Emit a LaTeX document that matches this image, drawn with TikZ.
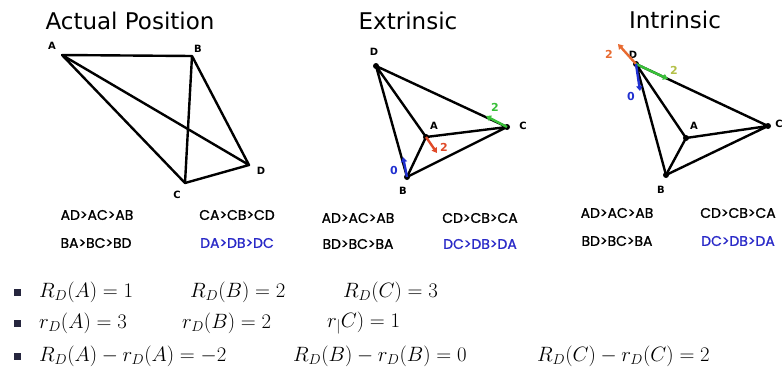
\documentclass[tikz,border=0pt]{standalone}
\usepackage{fontspec}
\usepackage{amsmath}
\usetikzlibrary{arrows.meta}
\newfontfamily\titlefont{DejaVu Sans}
\newfontfamily\orderfont[FakeBold=1]{Poppins}
\definecolor{OrderBlue}{HTML}{2A2AC8}
\definecolor{PointBlue}{HTML}{2030D0}
\definecolor{PointRed}{HTML}{E04A28}
\definecolor{PointGreen}{HTML}{38C038}
\definecolor{PointOrange}{HTML}{E86A30}
\definecolor{LabelLime}{HTML}{B4C048}
\definecolor{BulletNavy}{HTML}{26263E}

\begin{document}
\begin{tikzpicture}[x=1pt,y=-1pt,every node/.style={inner sep=0pt},
  edge/.style={line width=2.4pt,line join=round},
  vlabel/.style={font=\titlefont\bfseries\fontsize{10}{10}\selectfont},
  dot/.style={circle,fill=black,minimum size=6pt},
  heading/.style={font=\titlefont\fontsize{23}{23}\selectfont},
  order/.style={font=\orderfont\fontsize{14}{14}\selectfont},
  pointer/.style={line width=2.4pt,-{Triangle[length=5pt,width=6pt]}},
  plabel/.style={font=\titlefont\bfseries\fontsize{11}{11}\selectfont},
  bullet/.style={rectangle,fill=BulletNavy,minimum size=7pt},
  formula/.style={anchor=west,font=\fontsize{21}{24}\selectfont}]
\fill[white] (0,0) rectangle (783,367);
\useasboundingbox (0,0) rectangle (783,367);

% headings
\node[heading] (t1) at (130,21) {Actual Position};
\node[heading] (t2) at (408,21) {Extrinsic};
\node[heading] (t3) at (675,20) {Intrinsic};

% actual position
\coordinate (a1) at (62,55);
\coordinate (b1) at (192,56);
\coordinate (c1) at (185,183);
\coordinate (d1) at (249,165);
\draw[edge] (a1) -- (b1) -- (d1) -- (c1) -- (a1) -- (d1);
\draw[edge] (b1) -- (c1);
\node[vlabel] (la1) at (52,46) {A};
\node[vlabel] (lb1) at (198,49) {B};
\node[vlabel] (lc1) at (177,195) {C};
\node[vlabel] (ld1) at (261,171) {D};

% extrinsic
\coordinate (d2) at (376,66);
\coordinate (c2) at (507,127);
\coordinate (a2) at (426,137);
\coordinate (b2) at (407,177);
\draw[edge] (d2) -- (b2) -- (c2) -- (d2) -- (a2) -- (c2);
\draw[edge] (a2) -- (b2);
\foreach \v in {a2,b2,c2,d2} \node[dot] at (\v) {};
\node[vlabel] (ld2) at (374,52) {D};
\node[vlabel] (lc2) at (523,126) {C};
\node[vlabel] (la2) at (434,126) {A};
\node[vlabel] (lb2) at (403,191) {B};
\coordinate (pb2) at (403,157);
\coordinate (pa2) at (437,153);
\coordinate (pc2) at (486,116);
\draw[pointer,PointBlue] (b2) -- (pb2);
\draw[pointer,PointRed] (a2) -- (pa2);
\draw[pointer,PointGreen] (c2) -- (pc2);
\node[plabel,PointBlue] (nb2) at (394,170) {0};
\node[plabel,PointRed] (na2) at (444,147) {2};
\node[plabel,PointGreen] (nc2) at (495,107) {2};

% intrinsic
\coordinate (d3) at (636,64);
\coordinate (c3) at (768,126);
\coordinate (a3) at (686,138);
\coordinate (b3) at (666,175);
\draw[edge] (d3) -- (b3) -- (c3) -- (d3) -- (a3) -- (c3);
\draw[edge] (a3) -- (b3);
\foreach \v in {a3,b3,c3,d3} \node[dot] at (\v) {};
\node[vlabel] (ld3) at (633,55) {D};
\node[vlabel] (lc3) at (779,124) {C};
\node[vlabel] (la3) at (694,126) {A};
\node[vlabel] (lb3) at (661,190) {B};
\coordinate (po3) at (618,44);
\coordinate (pg3) at (668,79);
\coordinate (pb3) at (640,91);
\draw[pointer,PointOrange] (d3) -- (po3);
\draw[pointer,PointGreen] (d3) -- (pg3);
\draw[pointer,PointBlue] (d3) -- (pb3);
\node[plabel,PointOrange] (no3) at (609,54) {2};
\node[plabel,LabelLime] (ng3) at (674,70) {2};
\node[plabel,PointBlue] (nb3) at (631,96) {0};

% neighbour orders
\node[order] (o11) at (97,215) {AD>AC>AB};
\node[order] (o12) at (237,215) {CA>CB>CD};
\node[order] (o13) at (96,243) {BA>BC>BD};
\node[order,OrderBlue] (o14) at (237,243) {DA>DB>DC};
\node[order] (o21) at (358,218) {AD>AC>AB};
\node[order] (o22) at (480,218) {CD>CB>CA};
\node[order] (o23) at (358,244) {BD>BC>BA};
\node[order,OrderBlue] (o24) at (480,244) {DC>DB>DA};
\node[order] (o31) at (617,213) {AD>AC>AB};
\node[order] (o32) at (738,213) {CD>CB>CA};
\node[order] (o33) at (617,241) {BD>BC>BA};
\node[order,OrderBlue] (o34) at (738,241) {DC>DB>DA};

% ranks
\node[bullet] (s1) at (17,292) {};
\node[bullet] (s2) at (17,323) {};
\node[bullet] (s3) at (17,356) {};
\node[formula] (f11) at (39,292) {$R_D(A)=1$};
\node[formula] (f12) at (190,292) {$R_D(B)=2$};
\node[formula] (f13) at (343,292) {$R_D(C)=3$};
\node[formula] (f21) at (39,323) {$r_D(A)=3$};
\node[formula] (f22) at (182,323) {$r_D(B)=2$};
\node[formula] (f23) at (327,323) {$r_{|}C)=1$};
\node[formula] (f31) at (39,356) {$R_D(A)-r_D(A)=-2$};
\node[formula] (f32) at (293,356) {$R_D(B)-r_D(B)=0$};
\node[formula] (f33) at (537,356) {$R_D(C)-r_D(C)=2$};
\end{tikzpicture}
\end{document}
